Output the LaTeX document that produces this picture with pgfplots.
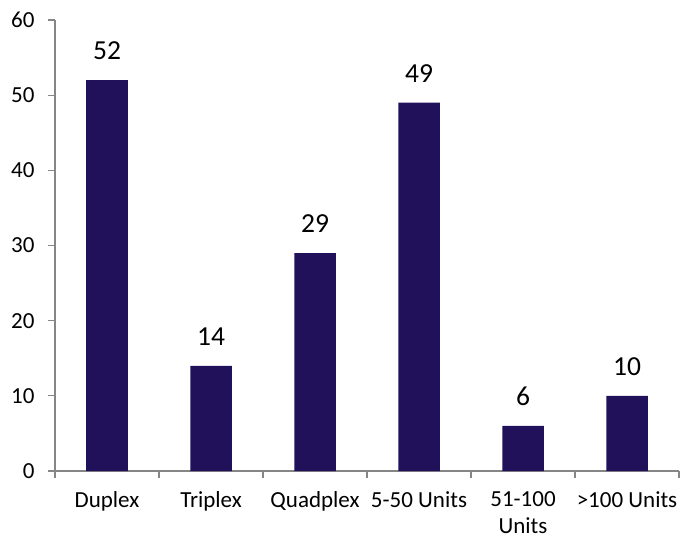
\documentclass[border=0pt]{standalone}
\usepackage{fontspec}
\setmainfont{Carlito}
\usepackage{pgfplots}
\pgfplotsset{compat=1.18}
\definecolor{barc}{RGB}{33,17,91}
\definecolor{axc}{RGB}{134,134,134}
\begin{document}
\begin{tikzpicture}
\begin{axis}[
  scale only axis, width=624pt, height=451pt,
  xmin=-0.5, xmax=5.5, ymin=0, ymax=60,
  clip=false,
  axis x line*=bottom, axis y line*=left,
  axis line style={axc, line width=1.2pt, -},
  ytick={0,10,...,60},
  xtick={0,...,5},
  xticklabels={Duplex,Triplex,Quadplex,5-50 Units,{51-100\\Units},>100 Units},
  minor xtick={-0.5,0.5,...,5.5},
  tick align=outside,
  major tick length=7pt, minor tick length=7pt,
  major x tick style={draw=none},
  minor x tick style={axc, line width=1.2pt},
  major y tick style={axc, line width=1.2pt},
  ticklabel style={font=\fontsize{23}{27}\selectfont, text=black},
  /pgf/number format/assume math mode=true,
  xticklabel style={align=center, anchor=north, yshift=-10pt},
  yticklabel style={xshift=-10pt},
]
\addplot[ybar, bar width=41.5pt, fill=barc, draw=none,
  nodes near coords,
  nodes near coords style={font=\fontsize{27.5}{30}\selectfont, text=black, anchor=south, inner sep=0pt, yshift=20pt}]
  coordinates {(0,52) (1,14) (2,29) (3,49) (4,6) (5,10)};
\coordinate (sw) at (rel axis cs:0,0);
\coordinate (ne) at (rel axis cs:1,1);
\end{axis}
\pgfresetboundingbox
\path (sw) ++(-55pt,-69pt) rectangle ([shift={(3pt,20pt)}]ne);
\end{tikzpicture}
\end{document}
